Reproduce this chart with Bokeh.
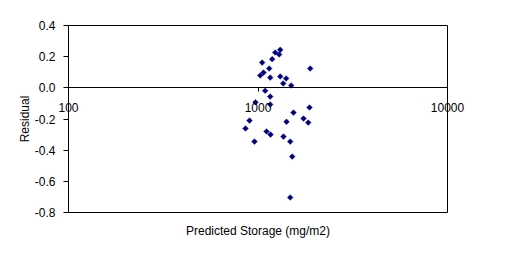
import numpy as np
from bokeh.plotting import figure
from bokeh.models import (Range1d, FixedTicker, LogAxis, LinearAxis, NumeralTickFormatter)
from bokeh.embed import file_html
from bokeh.resources import INLINE

# Data
predicted_storage = [1310, 1293, 1232, 1188, 1052, 1146, 1069, 1027, 1160, 1310,
                     1408, 1358, 1497, 1886, 1091, 1160, 1160, 970, 1539, 1870,
                     1739, 902, 1414, 1841, 859, 1109, 1164, 1363, 958, 1479,
                     1515, 1479]
residual = [0.244, 0.214, 0.227, 0.184, 0.162, 0.124, 0.098, 0.079, 0.066, 0.073,
            0.060, 0.028, 0.015, 0.124, -0.019, -0.056, -0.107, -0.093, -0.159, -0.126,
            -0.197, -0.210, -0.218, -0.223, -0.261, -0.280, -0.300, -0.313, -0.345, -0.345,
            -0.441, -0.704]
x_ticks = [100, 1000, 10000]
x_tick_labels = ["100", "1000", "10000"]
y_ticks = [-0.8, -0.6, -0.4, -0.2, 0.0, 0.2, 0.4]
x_min, x_max = 100, 10000
y_min, y_max = -0.8, 0.4
x_axis_crossing = 0.0

FONT = "Liberation Sans"

# Layout: canvas size and where the chart box sits inside it (pixels)
W, H = 511, 257
BOX_L, BOX_R, BOX_T, BOX_B = 68, 447, 25, 212

# Ranges widened so the box sits at the wanted place while the frame fills the
# whole canvas (so texts outside the box are not clipped)
dec_per_px = (np.log10(x_max) - np.log10(x_min)) / (BOX_R - BOX_L)
xr = Range1d(10 ** (np.log10(x_min) - BOX_L * dec_per_px),
             10 ** (np.log10(x_max) + (W - BOX_R) * dec_per_px))
u_per_px = (y_max - y_min) / (BOX_B - BOX_T)
yr = Range1d(y_min - (H - BOX_B) * u_per_px, y_max + BOX_T * u_per_px)

p = figure(width=W, height=H, x_axis_type="log", x_range=xr, y_range=yr,
           x_axis_location=None, y_axis_location=None,
           output_backend="svg", toolbar_location=None, min_border=0)
p.background_fill_color = "white"
p.border_fill_color = "white"
p.outline_line_color = None
p.grid.visible = False


def style_text(ax):
    ax.major_label_text_font = FONT
    ax.major_label_text_font_size = "12px"
    ax.major_label_text_color = "black"
    ax.axis_label_text_font = FONT
    ax.axis_label_text_font_size = "12px"
    ax.axis_label_text_font_style = "normal"
    ax.axis_label_text_color = "black"
    ax.axis_line_color = "black"
    ax.axis_line_width = 1
    ax.minor_tick_line_color = None
    ax.major_tick_in = 0


# Left value axis (box left edge)
ya = LinearAxis(fixed_location=x_min, bounds=(y_min, y_max),
                ticker=FixedTicker(ticks=y_ticks),
                formatter=NumeralTickFormatter(format="0.0"),
                axis_label="Residual")
style_text(ya)
ya.major_tick_out = 5
ya.major_label_standoff = 8
ya.axis_label_standoff = 0
p.add_layout(ya, "left")

# Right edge of box
yr_edge = LinearAxis(fixed_location=x_max, bounds=(y_min, y_max),
                     ticker=FixedTicker(ticks=[]))
style_text(yr_edge)
yr_edge.major_tick_line_color = None
p.add_layout(yr_edge, "right")

# Top edge of box
top_edge = LogAxis(fixed_location=y_max, bounds=(x_min, x_max),
                   ticker=FixedTicker(ticks=[]))
style_text(top_edge)
top_edge.major_tick_line_color = None
p.add_layout(top_edge, "above")

# Bottom edge of box with the x title
bot_edge = LogAxis(fixed_location=y_min, bounds=(x_min, x_max),
                   ticker=FixedTicker(ticks=[]),
                   axis_label="Predicted Storage (mg/m2)")
style_text(bot_edge)
bot_edge.major_tick_line_color = None
bot_edge.axis_label_standoff = 11
p.add_layout(bot_edge, "below")

# Category axis crossing at y = 0
xa = LogAxis(fixed_location=x_axis_crossing, bounds=(x_min, x_max),
             ticker=FixedTicker(ticks=x_ticks))
xa.major_label_overrides = {t: l for t, l in zip(x_ticks, x_tick_labels)}
style_text(xa)
xa.major_tick_out = 4
xa.major_label_standoff = 11
p.add_layout(xa, "below")

p.scatter(predicted_storage, residual, marker="square", size=4, angle=np.pi / 4,
          fill_color="#000080", line_color="#000080", line_width=0.5)

open("out.html", "w").write(file_html(p, INLINE))
